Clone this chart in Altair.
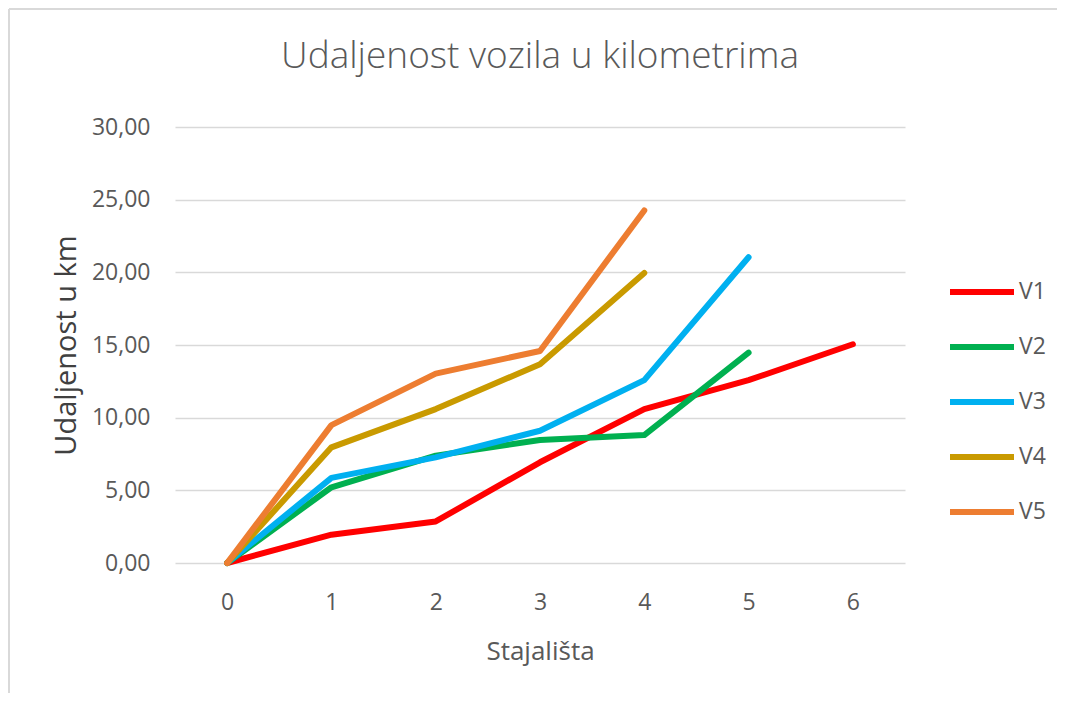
import altair as alt
import pandas as pd

stops = [0, 1, 2, 3, 4, 5, 6]
v1 = [0.00, 1.95, 2.86, 6.93, 10.59, 12.58, 15.05]
v2 = [0.00, 5.21, 7.39, 8.46, 8.80, 14.47]
v3 = [0.00, 5.86, 7.27, 9.10, 12.58, 21.04]
v4 = [0.00, 7.96, 10.59, 13.68, 19.96]
v5 = [0.00, 9.49, 13.03, 14.59, 24.26]
series = {"V1": v1, "V2": v2, "V3": v3, "V4": v4, "V5": v5}
names = ["V1", "V2", "V3", "V4", "V5"]
colors = ["#FF0000", "#00B050", "#00B0F0", "#C99A00", "#ED7D31"]
title_text = "Udaljenost vozila u kilometrima"

rows = []
for n in names:
    for s, v in zip(stops, series[n]):
        rows.append({"Stajalište": s, "km": v, "Vozilo": n})
df = pd.DataFrame(rows)

FONT = "Open Sans"
GREY = "#595959"

lines = alt.Chart(df).mark_line(strokeWidth=6, strokeCap="round", strokeJoin="round").encode(
    x=alt.X("Stajalište:Q",
            scale=alt.Scale(domain=[-0.5, 6.5], nice=False, zero=False),
            axis=alt.Axis(values=stops, grid=False, domain=False, ticks=False,
                          labelFont=FONT, labelFontSize=23, labelColor=GREY, labelPadding=28,
                          title="Stajališta", titleFont=FONT, titleFontSize=26,
                          titleFontWeight="normal", titleColor=GREY, titlePadding=24)),
    y=alt.Y("km:Q",
            scale=alt.Scale(domain=[0, 30], nice=False),
            axis=alt.Axis(values=[0, 5, 10, 15, 20, 25, 30], grid=True, gridColor="#d9d9d9",
                          gridWidth=1.5, domain=False, ticks=False,
                          labelExpr="replace(format(datum.value, '.2f'), '.', ',')",
                          labelFont=FONT, labelFontSize=23, labelColor=GREY, labelPadding=25,
                          title="Udaljenost u km", titleFont=FONT, titleFontSize=29,
                          titleFontWeight="normal", titleColor="#404040", titlePadding=10)),
    color=alt.Color("Vozilo:N", scale=alt.Scale(domain=names, range=colors),
                    legend=alt.Legend(title=None, orient="none", legendX=772, legendY=130,
                                      symbolType="stroke", symbolSize=4096, symbolStrokeWidth=6,
                                      labelFont=FONT, labelFontSize=23, labelColor=GREY,
                                      labelOffset=2, rowPadding=8)),
    order=alt.Order("Stajalište:Q"),
)

title_df = pd.DataFrame({"t": [title_text]})
title = alt.Chart(title_df).mark_text(font=FONT, fontSize=37, fontWeight=300, color=GREY,
                                      align="center", baseline="alphabetic").encode(
    text="t:N", x=alt.value(365), y=alt.value(-59))

frame_top = alt.Chart(title_df).mark_rule(color="#d9d9d9", strokeWidth=2).encode(
    x=alt.value(-166), x2=alt.value(900), y=alt.value(-118))
frame_left = alt.Chart(title_df).mark_rule(color="#d9d9d9", strokeWidth=2).encode(
    x=alt.value(-166), y=alt.value(-118), y2=alt.value(570))

chart = alt.layer(frame_top, frame_left, title, lines).properties(
    width=730, height=436,
    padding={"left": 167, "top": 119, "right": 152, "bottom": 130},
    autosize=alt.AutoSizeParams(type="none"),
).configure_view(stroke=None)

chart.save("out.html", embed_options={"renderer": "svg", "actions": False})
